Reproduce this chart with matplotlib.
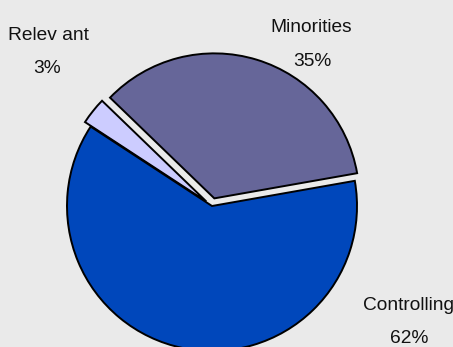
import matplotlib
matplotlib.use('Agg')
import matplotlib.pyplot as plt
from matplotlib import font_manager

# data
labels = ['Minorities', 'Relev ant', 'Controlling']
shares = [35, 3, 62]
colors = ['#666699', '#CCCCFF', '#0047BB']
explode = [0.055, 0.05, 0.0]

names = {f.name for f in font_manager.fontManager.ttflist}
if 'Liberation Sans Narrow' in names:
    family, fsize = 'Liberation Sans Narrow', 15.8
else:
    family, fsize = 'Liberation Sans', 13.8

W, H = 453, 347
R = 145.0          # pie radius in pixels
cx, cy = 212, 206  # pie centre in pixels (from top-left)

fig = plt.figure(figsize=(W / 100, H / 100), dpi=100)
fig.patch.set_facecolor('#EAEAEA')
ax = fig.add_axes([0, 0, 1, 1])
ax.set_facecolor('#EAEAEA')

ax.pie(shares, colors=colors, explode=explode, startangle=10,
       counterclock=True, radius=1,
       wedgeprops=dict(edgecolor='black', linewidth=1.4))

ax.set_xlim(-cx / R, (W - cx) / R)
ax.set_ylim(-(H - cy) / R, cy / R)
ax.set_aspect('equal')
ax.axis('off')

def px(x, y):
    return (x - cx) / R, (cy - y) / R

# label positions (pixel, baseline)
name_pos = [(311, 32), (48, 40), (408, 310.5)]
pct_pos = [(312, 66.5), (47, 73), (409, 343)]
for lab, s, (nx, ny), (qx, qy) in zip(labels, shares, name_pos, pct_pos):
    ax.text(*px(nx, ny), lab, ha='center', va='baseline',
            family=family, fontsize=fsize, color='#111111')
    ax.text(*px(qx, qy), f'{s}%', ha='center', va='baseline',
            family=family, fontsize=fsize, color='#111111')

fig.savefig('out.png', dpi=100, facecolor=fig.get_facecolor())
